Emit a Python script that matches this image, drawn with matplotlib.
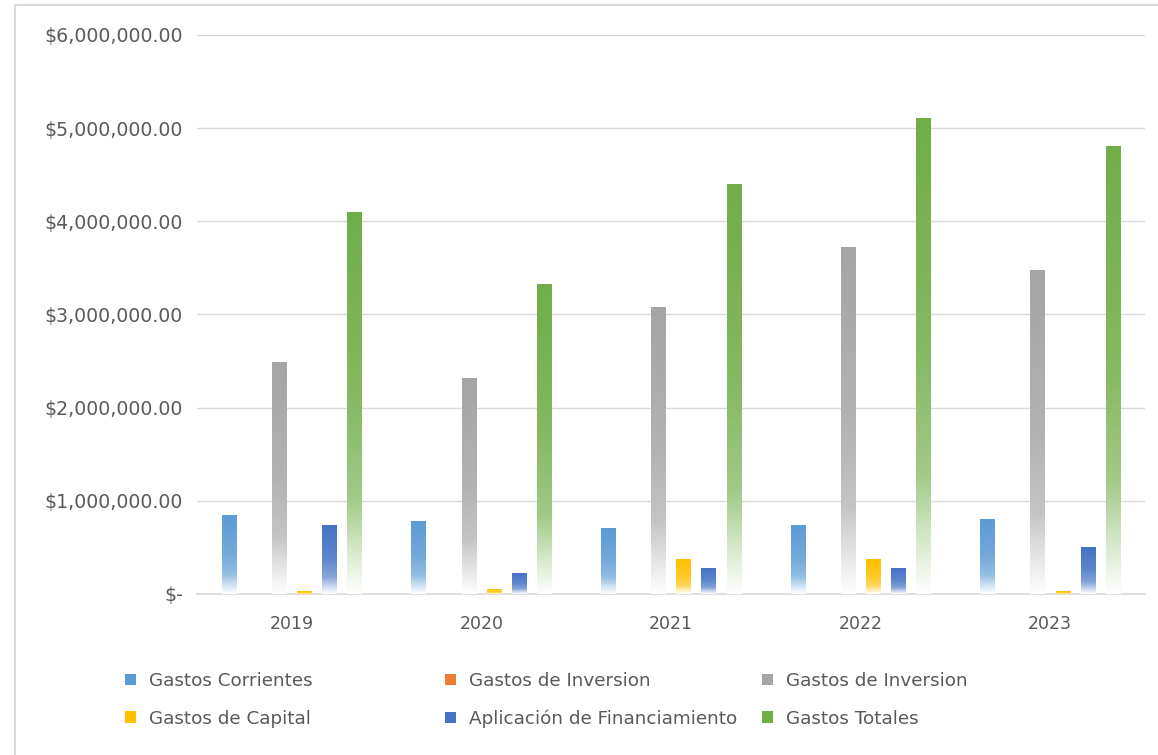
import matplotlib.pyplot as plt
import numpy as np
from matplotlib.colors import to_rgb
from matplotlib.patches import Patch, Rectangle
from matplotlib.ticker import FuncFormatter

# Datos
years = ['2019', '2020', '2021', '2022', '2023']
gastos_corrientes = [845000, 775000, 700000, 740000, 800000]
gastos_inversion_1 = [0, 0, 0, 0, 0]
gastos_inversion_2 = [2490000, 2310000, 3080000, 3720000, 3470000]
gastos_capital = [25000, 45000, 375000, 375000, 25000]
aplicacion_financ = [733000, 218000, 270000, 270000, 500000]
gastos_totales = [4100000, 3320000, 4400000, 5100000, 4800000]

series = [gastos_corrientes, gastos_inversion_1, gastos_inversion_2,
          gastos_capital, aplicacion_financ, gastos_totales]
labels = ['Gastos Corrientes', 'Gastos de Inversion', 'Gastos de Inversion',
          'Gastos de Capital', 'Aplicación de Financiamiento', 'Gastos Totales']
colors = ['#5B9BD5', '#ED7D31', '#A5A5A5', '#FFC000', '#4472C4', '#70AD47']

plt.rcParams['font.family'] = ['DejaVu Sans']

fig = plt.figure(figsize=(11.58, 7.55), dpi=100)
ax = fig.add_axes([197/1158, 1 - 594/755, (1145-197)/1158, (594-35)/755])

x = np.arange(len(years))
slot = 0.1325
width = 0.076

# degradado tipo Excel: color arriba, blanco abajo
grad_t = [0.0, 0.5, 0.75, 0.9, 1.0]
grad_k = [1.0, 0.85, 0.65, 0.25, 0.0]


def gradient_bar(ax, bar, color):
    x0, y0 = bar.get_x(), bar.get_y()
    w, h = bar.get_width(), bar.get_height()
    if h <= 0:
        return
    t = np.linspace(0, 1, 300)
    k = np.interp(t, grad_t, grad_k)[:, None, None]
    rgb = np.array(to_rgb(color))
    img = k * rgb + (1 - k) * np.ones(3)
    img = np.repeat(img, 2, axis=1)
    ax.imshow(img, extent=[x0, x0 + w, y0, y0 + h], aspect='auto',
              origin='upper', zorder=3, interpolation='bilinear')


for i, (vals, col) in enumerate(zip(series, colors)):
    bars = ax.bar(x + (i - 2.5) * slot, vals, width, color='none',
                  edgecolor='none', zorder=3)
    for b in bars:
        gradient_bar(ax, b, col)

ax.set_xlim(-0.5, len(years) - 0.5)
ax.set_ylim(0, 6000000)
ax.set_yticks(np.arange(0, 6000001, 1000000))


def fmt(v, pos):
    if v == 0:
        return '$-'
    return f'${v:,.2f}'


ax.yaxis.set_major_formatter(FuncFormatter(fmt))
ax.set_xticks(x)
ax.set_xticklabels(years)
ax.tick_params(axis='both', length=0, colors='#595959')
ax.tick_params(axis='y', pad=10, labelsize=13.6)
ax.tick_params(axis='x', pad=15, labelsize=12.5)

ax.grid(axis='y', color='#D9D9D9', linewidth=1, zorder=0)
ax.set_axisbelow(True)
for s in ['top', 'right', 'left']:
    ax.spines[s].set_visible(False)
ax.spines['bottom'].set_color('#D9D9D9')
ax.spines['bottom'].set_linewidth(1.2)

# Leyenda: tres columnas de igual ancho, como en Excel
handles = [Patch(facecolor=c, edgecolor='none') for c in colors]
col_x = [125, 445, 762]
for j in range(3):
    idx = [j, j + 3]
    leg = fig.legend([handles[i] for i in idx], [labels[i] for i in idx],
                     loc='upper left',
                     bbox_to_anchor=(col_x[j]/1158, 1 - 672/755),
                     borderaxespad=0, borderpad=0, frameon=False,
                     fontsize=13.2, labelcolor='#595959',
                     handlelength=0.6, handleheight=0.6, handletextpad=0.7,
                     labelspacing=1.07)

# Borde del área del gráfico
fig.patches.append(Rectangle((15/1158, -0.1), 1.2, 1 - 5/755 + 0.1,
                             transform=fig.transFigure, fill=False,
                             edgecolor='#D9D9D9', linewidth=1.5))

plt.savefig('out.png', dpi=100)
